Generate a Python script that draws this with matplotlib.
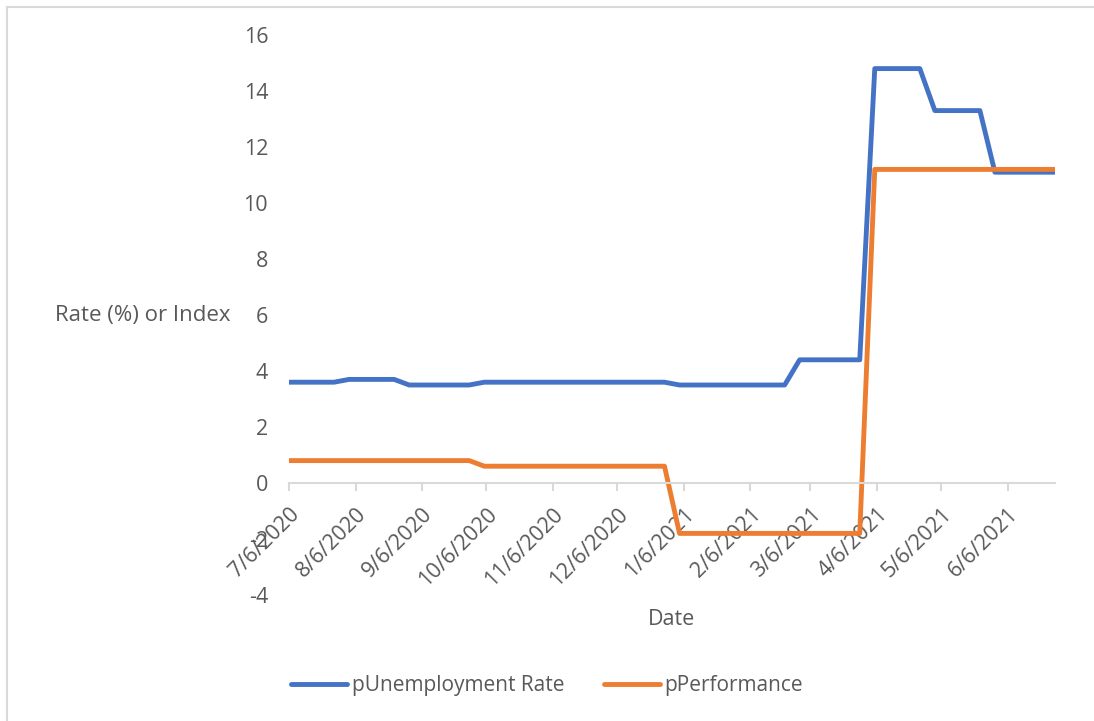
import pandas as pd
from matplotlib import pyplot as plt
from matplotlib.lines import Line2D


# weekly observations starting 7/6/2020
dates = pd.date_range("2020-07-06", periods=52, freq="7D")

unemployment = [3.6, 3.6, 3.6, 3.6,
                3.7, 3.7, 3.7, 3.7,
                3.5, 3.5, 3.5, 3.5, 3.5,
                3.6, 3.6, 3.6, 3.6, 3.6, 3.6, 3.6, 3.6, 3.6, 3.6, 3.6, 3.6, 3.6,
                3.5, 3.5, 3.5, 3.5, 3.5, 3.5, 3.5, 3.5,
                4.4, 4.4, 4.4, 4.4, 4.4,
                14.8, 14.8, 14.8, 14.8,
                13.3, 13.3, 13.3, 13.3,
                11.1, 11.1, 11.1, 11.1, 11.1]

performance = [0.8, 0.8, 0.8, 0.8, 0.8, 0.8, 0.8, 0.8, 0.8, 0.8, 0.8, 0.8, 0.8,
               0.6, 0.6, 0.6, 0.6, 0.6, 0.6, 0.6, 0.6, 0.6, 0.6, 0.6, 0.6, 0.6,
               -1.8, -1.8, -1.8, -1.8, -1.8, -1.8, -1.8, -1.8, -1.8, -1.8, -1.8, -1.8, -1.8,
               11.2, 11.2, 11.2, 11.2, 11.2, 11.2, 11.2, 11.2, 11.2, 11.2, 11.2, 11.2, 11.2]

tick_dates = pd.date_range("2020-07-01", "2021-06-01", freq="MS") + pd.Timedelta(days=5)
tick_labels = [f"{d.month}/{d.day}/{d.year}" for d in tick_dates]
y_ticks = [-4, -2, 0, 2, 4, 6, 8, 10, 12, 14, 16]

grey = "#595959"
light = "#D9D9D9"
fs = 15.5
plt.rcParams["font.family"] = ["Open Sans", "DejaVu Sans"]

fig = plt.figure(figsize=(10.94, 7.21), dpi=100)
ax = fig.add_axes([289 / 1094, 1 - 595 / 721, 766 / 1094, 560 / 721])

ax.plot(dates, unemployment, color="#4472C4", lw=3.5, label="pUnemployment Rate",
        solid_joinstyle="round", solid_capstyle="round")
ax.plot(dates, performance, color="#ED7D31", lw=3.5, label="pPerformance",
        solid_joinstyle="round", solid_capstyle="round")

ax.set_xlim(dates[0], dates[-1])
ax.set_ylim(-4, 16)

for s in ["left", "right", "top"]:
    ax.spines[s].set_visible(False)
ax.spines["bottom"].set_position(("data", 0))
ax.spines["bottom"].set_color(light)
ax.spines["bottom"].set_linewidth(1.5)

ax.tick_params(axis="x", colors=grey, labelsize=fs, length=6, width=1.5, color=light, pad=9)
ax.tick_params(axis="y", colors=grey, labelsize=fs, length=0, pad=15)

ax.set_yticks(y_ticks)
ax.set_yticklabels([str(v) for v in y_ticks])
ax.set_xticks(tick_dates)
ax.set_xticklabels(tick_labels)
plt.setp(ax.get_xticklabels(), rotation=45, ha="right", va="top", rotation_mode="anchor")

ax.set_ylabel("Rate (%) or Index", rotation=0, ha="right", va="center", color=grey, fontsize=16)
ax.yaxis.set_label_coords(-0.077, 0.5)
ax.set_xlabel("Date", color=grey, fontsize=fs, va="center")
ax.xaxis.set_label_coords(0.5, -0.044)

fig.legend(loc="center", bbox_to_anchor=(0.5, 1 - 686 / 721), ncol=2, frameon=False,
           fontsize=15, labelcolor=grey, handlelength=2.7, handletextpad=0.2,
           columnspacing=1.9)

# chart area border
fig.add_artist(Line2D([7 / 1094, 7 / 1094], [0, 1 - 7 / 721], color=light, lw=1.5))
fig.add_artist(Line2D([7 / 1094, 1], [1 - 7 / 721, 1 - 7 / 721], color=light, lw=1.5))

fig.savefig("out.png", dpi=100)
